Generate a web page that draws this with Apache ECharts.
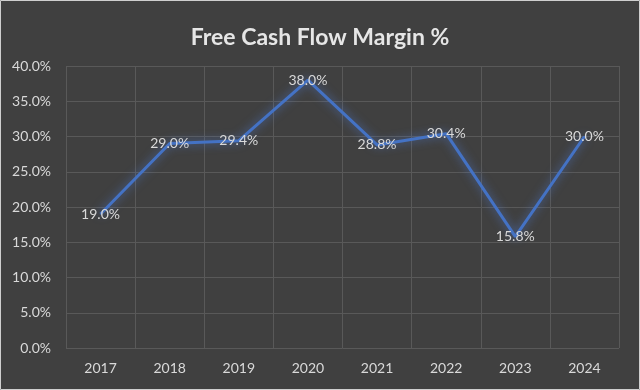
<!DOCTYPE html>
<html><head><meta charset="utf-8">
<script src="https://cdn.jsdelivr.net/npm/echarts@6/dist/echarts.min.js"></script>
<style>html,body{margin:0;padding:0;background:#404040;}#c{width:640px;height:390px;}</style>
</head><body><div id="c"></div>
<script>
const categories = ['2017','2018','2019','2020','2021','2022','2023','2024'];
const fcfMargin = [19.0, 29.0, 29.4, 38.0, 28.8, 30.4, 15.8, 30.0];
const titleText = 'Free Cash Flow Margin %';

const chart = echarts.init(document.getElementById('c'), null, {renderer:'canvas'});
const font = 'Lato, "Open Sans", sans-serif';
chart.setOption({
  backgroundColor: '#404040',
  animation: false,
  title: {
    text: titleText, left: 'center', top: 21,
    textStyle: {color: '#e6e6e6', fontSize: 23, fontWeight: 'bold', fontFamily: font}
  },
  graphic: [{type:'rect', shape:{x:0.5,y:0.5,width:639,height:389}, style:{fill:'none', stroke:'#cfcfcf', lineWidth:1}, silent:true}],
  grid: {left: 66, right: 21, top: 66, bottom: 42},
  xAxis: {
    type: 'category', data: categories, boundaryGap: true,
    axisLine: {show: false}, axisTick: {show: false},
    axisLabel: {color: '#d9d9d9', fontSize: 14, fontFamily: font, margin: 13},
    splitLine: {show: true, lineStyle: {color: '#595959', width: 1}}
  },
  yAxis: {
    type: 'value', min: 0, max: 40, interval: 5,
    axisLine: {show: false}, axisTick: {show: false},
    axisLabel: {color: '#d9d9d9', fontSize: 14, fontFamily: font, margin: 15,
      formatter: v => v.toFixed(1) + '%'},
    splitLine: {lineStyle: {color: '#595959', width: 1}}
  },
  series: [{
    type: 'line', data: fcfMargin,
    symbol: 'circle', symbolSize: 1, showSymbol: true,
    itemStyle: {color: '#4472C4'},
    lineStyle: {color: '#4472C4', width: 3, shadowBlur: 10, shadowColor: 'rgba(80,130,230,0.7)'},
    label: {show: true, position: 'inside', color: '#d9d9d9', fontSize: 14, fontFamily: font,
      formatter: p => p.value.toFixed(1) + '%'}
  }]
});
</script></body></html>
